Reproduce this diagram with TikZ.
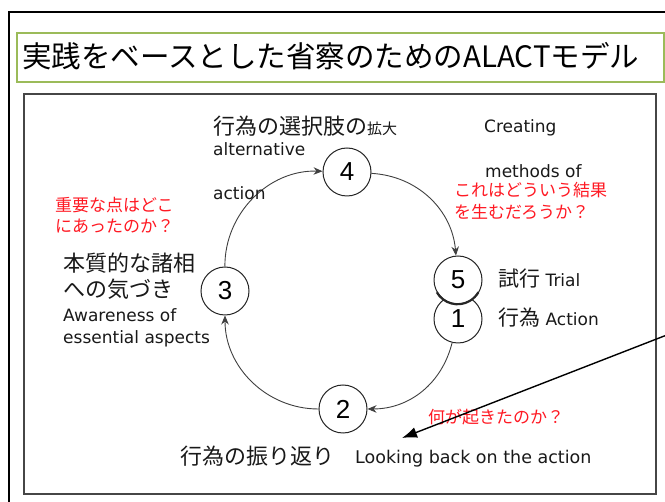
\documentclass[tikz,border=0pt]{standalone}
\usepackage{fontspec}
\setmainfont{DejaVu Sans}
\newfontfamily\jp{Noto Sans CJK JP}
\newfontfamily\numfont{Liberation Sans}
\usetikzlibrary{arrows.meta}
\definecolor{titlegreen}{RGB}{155,187,89}
\definecolor{qred}{RGB}{255,25,35}
\definecolor{txt}{RGB}{25,25,25}
\definecolor{framegray}{RGB}{70,70,70}
\begin{document}
\begin{tikzpicture}[x=1pt,y=-1pt,
  stepnode/.style={circle,draw=black!85,line width=1pt,fill=white,minimum size=48pt,inner sep=0pt,font=\numfont\fontsize{26}{28}\selectfont},
  cyc/.style={draw=black!75,line width=0.9pt,-{Stealth[length=9pt,width=7.5pt]}},
  jlab/.style={anchor=base west,inner sep=0pt,text=txt,font=\jp\fontsize{22}{24}\selectfont},
  elab/.style={anchor=base west,inner sep=0pt,text=txt,font=\fontsize{17}{19}\selectfont},
  qlab/.style={anchor=base west,inner sep=0pt,text=qred,font=\jp\fontsize{17}{19}\selectfont},
  pointer/.style={draw=black,line width=1.4pt,-{Latex[length=15pt,width=11pt]}},
]
\useasboundingbox (0,0) rectangle (665,502);
\fill[white] (0,0) rectangle (665,502);
% outer frame (right and bottom edges fall outside the picture)
\draw[black,line width=1.4pt] (9,12) rectangle (700,540);
% title
\draw[titlegreen,line width=1.3pt,fill=white] (17,33) rectangle (664,82);
\node[anchor=base west,inner sep=0pt,font=\jp\fontsize{29.5}{32}\selectfont] (title) at (22,67.5) {実践をベースとした省察のためのALACTモデル};
% inner frame
\draw[framegray,line width=1.3pt] (24,94) rectangle (656,494);

% cycle nodes
\node[stepnode] (n1) at (458,319) {1};
\node[stepnode] (n5) at (458,280) {5};
\draw[black!85,line width=2.2pt] (n5.210) arc[start angle=210,end angle=330,radius=24pt];
\node[stepnode] (n4) at (347,172) {4};
\node[stepnode] (n2) at (343,409) {2};
\node[stepnode] (n3) at (225,291) {3};

\draw[cyc] (n4) to[bend left=41] (n5);
\draw[cyc] (n1) to[bend left=38] (n2);
\draw[cyc] (n2) to[bend left=45] (n3);
\draw[cyc] (n3) to[bend left=46] (n4);

% labels around step 4
\node[jlab] (l4j) at (213,134.5) {行為の選択肢の{\fontsize{15}{17}\selectfont 拡大}};
\node[elab] (l4a) at (213,156) {alternative};
\node[elab] (l4b) at (213,200) {action};
\node[elab] (l5a) at (484,133) {Creating};
\node[elab] (l5b) at (485,177.5) {methods of};
\node[qlab] (q5a) at (454,197) {これはどういう結果};
\node[qlab] (q5b) at (454,219) {を生むだろうか？};

% labels around step 3
\node[qlab] (q3a) at (55,212) {重要な点はどこ};
\node[qlab] (q3b) at (55,233) {にあったのか？};
\node[jlab] (l3a) at (63,271.5) {本質的な諸相};
\node[jlab] (l3b) at (63,297.5) {への気づき};
\node[elab] (l3c) at (63,322) {Awareness of};
\node[elab] (l3d) at (63,344) {essential aspects};

% labels at steps 5 and 1
\node[elab] (l5) at (498,287) {{\jp\fontsize{21}{23}\selectfont 試行} Trial};
\node[elab] (l1) at (498,326) {{\jp\fontsize{21}{23}\selectfont 行為} Action};

% labels at step 2
\node[jlab] (l2a) at (180,464.5) {行為の振り返り};
\node[elab,font=\fontsize{17.5}{19}\selectfont] (l2b) at (355,464) {Looking back on the action};
\node[qlab] (q2) at (428,424) {何が起きたのか？};

% pointer arrow
\coordinate (ptrstart) at (690,326);
\coordinate (ptrend) at (402,438);
\draw[pointer] (ptrstart) -- (ptrend);
\end{tikzpicture}
\end{document}
